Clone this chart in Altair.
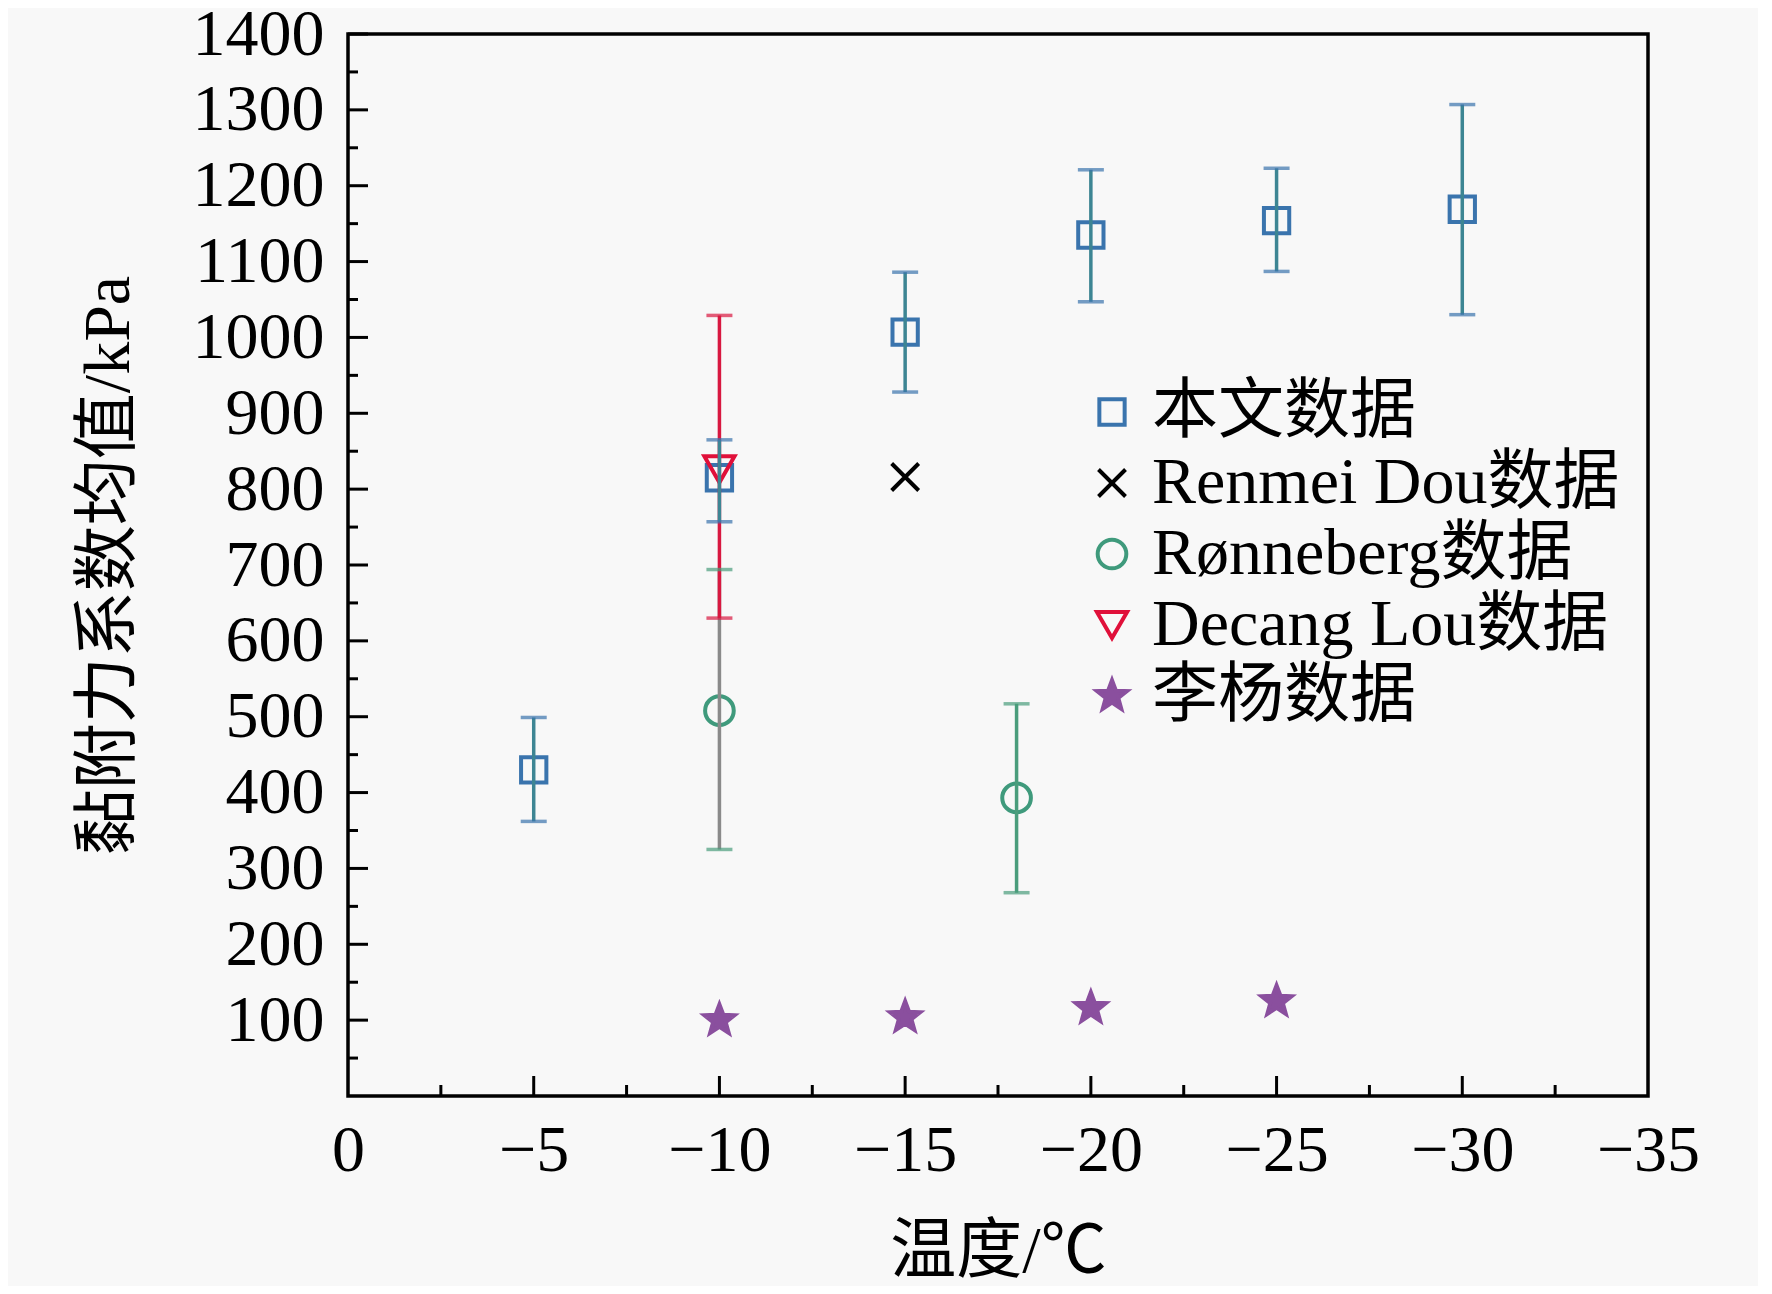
import altair as alt
import pandas as pd

# ---------------- data ----------------
series_names = ["本文数据", "Renmei Dou数据", "Rønneberg数据", "Decang Lou数据", "李杨数据"]

own_t = [-5, -10, -15, -20, -25, -30]
own_v = [430, 815, 1007, 1135, 1154, 1169]
own_lo = [362, 757, 928, 1047, 1087, 1030]
own_hi = [499, 865, 1086, 1221, 1223, 1307]

dou_t = [-15]
dou_v = [816]

ron_t = [-10, -18]
ron_v = [508, 393]
ron_lo = [325, 268]
ron_hi = [694, 517]

lou_t = [-10]
lou_v = [826]
lou_lo = [630]
lou_hi = [1029]

li_t = [-10, -15, -20, -25]
li_v = [100, 104, 116, 125]

x_major = [0, -5, -10, -15, -20, -25, -30, -35]
x_minor = [-2.5, -7.5, -12.5, -17.5, -22.5, -27.5, -32.5]
y_major = [100, 200, 300, 400, 500, 600, 700, 800, 900, 1000, 1100, 1200, 1300, 1400]
y_minor = [50, 150, 250, 350, 450, 550, 650, 750, 850, 950, 1050, 1150, 1250, 1350]

# ---------------- tables ----------------
pts = pd.DataFrame(
    [{"series": series_names[0], "t": t, "v": v} for t, v in zip(own_t, own_v)]
    + [{"series": series_names[1], "t": t, "v": v} for t, v in zip(dou_t, dou_v)]
    + [{"series": series_names[2], "t": t, "v": v} for t, v in zip(ron_t, ron_v)]
    + [{"series": series_names[3], "t": t, "v": v} for t, v in zip(lou_t, lou_v)]
    + [{"series": series_names[4], "t": t, "v": v} for t, v in zip(li_t, li_v)]
)

bar_col = {"own": "#3d8593", "ron": ["#8a8a8a", "#4a9d7c"], "lou": "#d81840"}
cap_col = {"own": "#3a74ad", "ron": ["#4a9d7c", "#4a9d7c"], "lou": "#d81840"}
err = pd.DataFrame(
    [{"t": t, "lo": lo, "hi": hi, "bc": bar_col["own"], "cc": cap_col["own"]}
     for t, lo, hi in zip(own_t, own_lo, own_hi)]
    + [{"t": t, "lo": lo, "hi": hi, "bc": bar_col["ron"][i], "cc": cap_col["ron"][i]}
       for i, (t, lo, hi) in enumerate(zip(ron_t, ron_lo, ron_hi))]
    + [{"t": t, "lo": lo, "hi": hi, "bc": bar_col["lou"], "cc": cap_col["lou"]}
       for t, lo, hi in zip(lou_t, lou_lo, lou_hi)]
)
err["order"] = [2] * len(own_t) + [0] * len(ron_t) + [1] * len(lou_t)
err = err.sort_values("order")

W, H = 1300, 1062
FONT = "Liberation Serif, Noto Sans CJK SC, serif"

xs = alt.Scale(domain=[0, -35], nice=False, zero=False)
ys = alt.Scale(domain=[0, 1400], nice=False)

X = alt.X("t:Q", scale=xs, axis=alt.Axis(
    orient="bottom", values=x_major, format="d", title="温度/℃"))
Y = alt.Y("v:Q", scale=ys, axis=alt.Axis(
    orient="left", values=y_major, format="d", title="黏附力系数均值/kPa"))

Xn = alt.X("t:Q", scale=xs)
Yn_lo = alt.Y("lo:Q", scale=ys)
Yn_hi = alt.Y("hi:Q", scale=ys)

base_err = alt.Chart(err)
bars = base_err.mark_rule(strokeWidth=3.5).encode(
    x=Xn, y=Yn_lo, y2="hi:Q", stroke=alt.Stroke("bc:N", scale=None))
cap_lo = base_err.mark_tick(orient="horizontal", size=26, thickness=3.5).encode(
    x=Xn, y=Yn_lo, color=alt.Color("cc:N", scale=None))
cap_hi = base_err.mark_tick(orient="horizontal", size=26, thickness=3.5).encode(
    x=Xn, y=Yn_hi, color=alt.Color("cc:N", scale=None))

STAR = ("M0,-1L0.247,-0.34L0.951,-0.309L0.399,0.13L0.588,0.809L0,0.42"
        "L-0.588,0.809L-0.399,0.13L-0.951,-0.309L-0.247,-0.34Z")
CROSS = "M-1,-1L1,1M-1,1L1,-1"
shapes = ["square", CROSS, "circle", "triangle-down", STAR]
strokes = ["#3a74ad", "#000000", "#3f9a7c", "#e0103a", "#8a4f9e"]
fills = ["transparent", "transparent", "transparent", "transparent", "#8a4f9e"]
sizes = [640, 1000, 800, 1100, 3000]

legend = alt.Legend(
    title=None, orient="none", legendX=731, legendY=345, labelFontSize=66,
    labelFont=FONT, labelColor="black", symbolStrokeWidth=4, labelOffset=7,
    rowPadding=5, padding=0, symbolOpacity=1, labelLimit=0)

points = alt.Chart(pts).mark_point(strokeWidth=4, opacity=1).encode(
    x=X, y=Y,
    shape=alt.Shape("series:N", scale=alt.Scale(domain=series_names, range=shapes), legend=legend),
    stroke=alt.Stroke("series:N", scale=alt.Scale(domain=series_names, range=strokes), legend=legend),
    fill=alt.Fill("series:N", scale=alt.Scale(domain=series_names, range=fills), legend=legend),
    size=alt.Size("series:N", scale=alt.Scale(domain=series_names, range=sizes), legend=legend),
)

# inward axis ticks
ymaj = alt.Chart(pd.DataFrame({"v": y_major})).mark_rule(color="black", strokeWidth=3).encode(
    y=alt.Y("v:Q", scale=ys), x=alt.value(0), x2=alt.value(20))
ymin = alt.Chart(pd.DataFrame({"v": y_minor})).mark_rule(color="black", strokeWidth=3).encode(
    y=alt.Y("v:Q", scale=ys), x=alt.value(0), x2=alt.value(10))
xmaj = alt.Chart(pd.DataFrame({"t": x_major[1:-1]})).mark_rule(color="black", strokeWidth=3).encode(
    x=Xn, y=alt.value(H), y2=alt.value(H - 20))
xmin = alt.Chart(pd.DataFrame({"t": x_minor})).mark_rule(color="black", strokeWidth=3).encode(
    x=Xn, y=alt.value(H), y2=alt.value(H - 11))

chart = alt.layer(points, ymaj, ymin, xmaj, xmin, bars, cap_lo, cap_hi).properties(
    width=W, height=H,
    autosize=alt.AutoSizeParams(type="none"),
    padding={"left": 340, "top": 26, "right": 110, "bottom": 190},
    background="#f8f8f8",
).configure_view(stroke="black", strokeWidth=3.5).configure_axis(
    domain=False, ticks=False, grid=False, labelFlush=False,
    labelFont=FONT, titleFont=FONT, labelColor="black", titleColor="black",
    titleFontWeight="normal", labelFontSize=66, titleFontSize=66,
).configure_axisX(labelPadding=22, titlePadding=36).configure_axisY(
    labelPadding=24, titlePadding=50)

chart.save("out.html", embed_options={"renderer": "svg", "actions": False})
